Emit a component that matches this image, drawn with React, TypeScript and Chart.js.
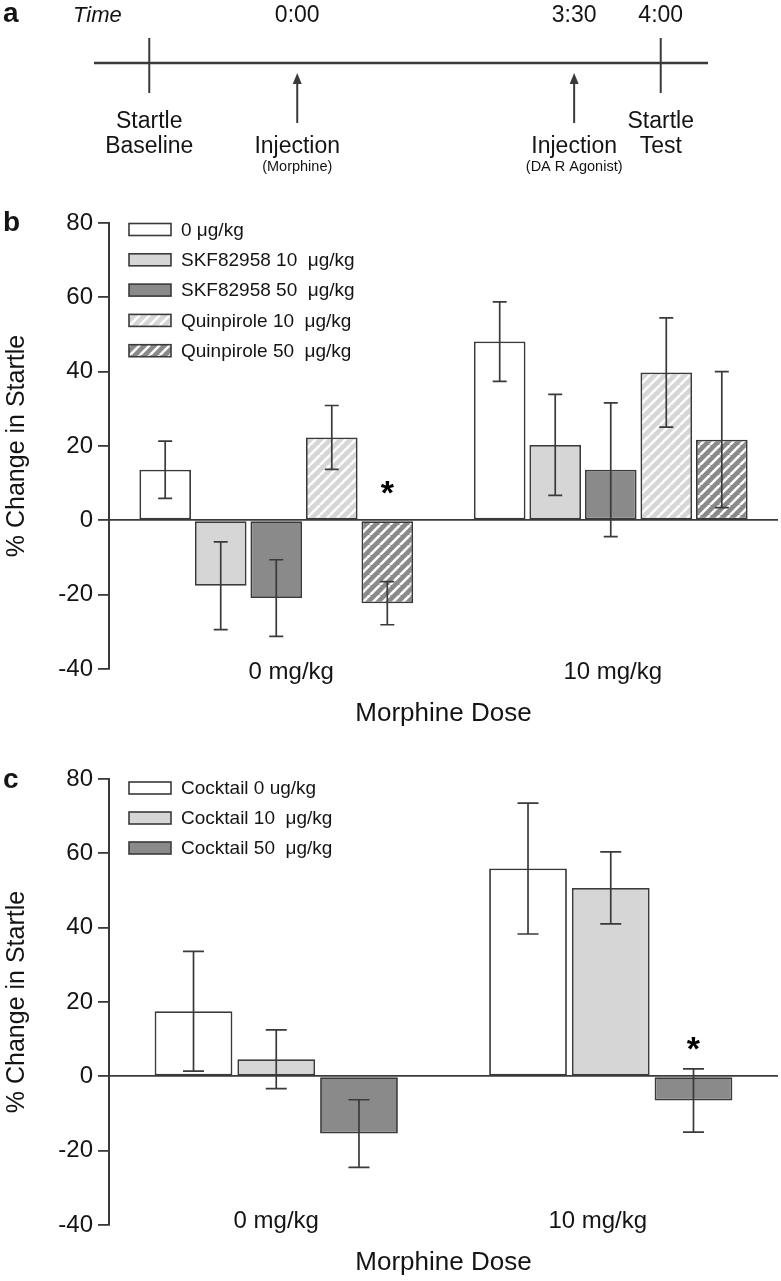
import React, { useEffect, useRef } from 'react';
import { Chart, registerables } from 'chart.js';

Chart.register(...registerables);

const FONT = '"Liberation Sans", Arial, Helvetica, sans-serif';
const TEXT = '#141414';
const EDGE = '#3a3a3a';
const WHITE_FILL = '#ffffff';
const LIGHT_FILL = '#d6d6d6';
const DARK_FILL = '#8a8a8a';

// ---------- panel a: protocol timeline ----------
const timelineRange = [0, 100];
const eventPositions = [9, 33.1, 78.2, 92.3];
const eventKinds = ['tick', 'arrow', 'arrow', 'tick'];
const eventClock = ['', '0:00', '3:30', '4:00'];
const eventLine1 = ['Startle', '', '', 'Startle'];
const eventLine2 = ['Baseline', 'Injection', 'Injection', 'Test'];
const eventNote = ['', '(Morphine)', '(DA R Agonist)', ''];

// ---------- shared axes ----------
const doseCategories = ['0 mg/kg', '10 mg/kg'];
const yMin = -40;
const yMax = 80;
const yStep = 20;

// ---------- panel b ----------
const bSeriesLabels = [
  '0 \u03bcg/kg',
  'SKF82958 10  \u03bcg/kg',
  'SKF82958 50  \u03bcg/kg',
  'Quinpirole 10  \u03bcg/kg',
  'Quinpirole 50  \u03bcg/kg',
];
const bVehicle = [13.6, 48.1];
const bVehicleSem = [7.7, 10.7];
const bSkf10 = [-17.6, 20.3];
const bSkf10Sem = [11.8, 13.6];
const bSkf50 = [-20.9, 13.6];
const bSkf50Sem = [10.3, 18.0];
const bQuin10 = [22.3, 39.8];
const bQuin10Sem = [8.6, 14.7];
const bQuin50 = [-22.3, 21.7];
const bQuin50Sem = [5.8, 18.3];
const bStars = [{ series: 4, index: 0, value: 8.7 }];

// ---------- panel c ----------
const cSeriesLabels = ['Cocktail 0 ug/kg', 'Cocktail 10  \u03bcg/kg', 'Cocktail 50  \u03bcg/kg'];
const cCocktail0 = [17.5, 55.9];
const cCocktail0Sem = [16.1, 17.6];
const cCocktail10 = [4.6, 50.7];
const cCocktail10Sem = [7.9, 9.7];
const cCocktail50 = [-15.4, -6.5];
const cCocktail50Sem = [9.1, 8.5];
const cStars = [{ series: 2, index: 1, value: 8.9 }];

function makeHatch(bg: string): any {
  const c = document.createElement('canvas');
  c.width = 10;
  c.height = 10;
  const g = c.getContext('2d')!;
  g.fillStyle = bg;
  g.fillRect(0, 0, 10, 10);
  g.strokeStyle = '#ffffff';
  g.lineWidth = 2.6;
  g.beginPath();
  for (const o of [-10, 0, 10]) {
    g.moveTo(o, 10);
    g.lineTo(o + 10, 0);
  }
  g.stroke();
  return g.createPattern(c, 'repeat');
}

function timelineConfig(): any {
  const timelinePlugin = {
    id: 'timeline',
    afterDraw(chart: any) {
      const ctx = chart.ctx;
      const xs = chart.scales.x;
      const x0 = xs.getPixelForValue(timelineRange[0]);
      const x1 = xs.getPixelForValue(timelineRange[1]);
      const lineY = 63;
      ctx.save();
      ctx.strokeStyle = EDGE;
      ctx.fillStyle = TEXT;
      ctx.lineWidth = 2.4;
      ctx.beginPath();
      ctx.moveTo(x0, lineY);
      ctx.lineTo(x1, lineY);
      ctx.stroke();

      ctx.textBaseline = 'alphabetic';
      ctx.textAlign = 'left';
      ctx.font = `bold 28px ${FONT}`;
      ctx.fillText('a', 3, 21.5);
      ctx.font = `italic 22px ${FONT}`;
      ctx.fillText('Time', 73, 21.5);

      ctx.textAlign = 'center';
      eventPositions.forEach((p, i) => {
        const x = xs.getPixelForValue(p);
        ctx.lineWidth = 2;
        ctx.beginPath();
        if (eventKinds[i] === 'tick') {
          ctx.moveTo(x, 38);
          ctx.lineTo(x, 93);
          ctx.stroke();
        } else {
          ctx.moveTo(x, 123);
          ctx.lineTo(x, 82);
          ctx.stroke();
          ctx.beginPath();
          ctx.moveTo(x, 73);
          ctx.lineTo(x - 4.5, 84);
          ctx.lineTo(x + 4.5, 84);
          ctx.closePath();
          ctx.fillStyle = EDGE;
          ctx.fill();
        }
        ctx.fillStyle = TEXT;
        ctx.font = `23px ${FONT}`;
        if (eventClock[i]) ctx.fillText(eventClock[i], x, 21.5);
        if (eventLine1[i]) ctx.fillText(eventLine1[i], x, 128);
        if (eventLine2[i]) ctx.fillText(eventLine2[i], x, 152.5);
        if (eventNote[i]) {
          ctx.font = `14.5px ${FONT}`;
          ctx.fillText(eventNote[i], x, 170.5);
        }
      });
      ctx.restore();
    },
  };
  return {
    type: 'scatter',
    data: { datasets: [] },
    options: {
      responsive: false,
      animation: false,
      layout: { padding: { left: 94, right: 73, top: 0, bottom: 0 } },
      plugins: { legend: { display: false }, tooltip: { enabled: false } },
      scales: {
        x: { type: 'linear', min: timelineRange[0], max: timelineRange[1], display: false },
        y: { type: 'linear', min: 0, max: 1, display: false },
      },
    },
    plugins: [timelinePlugin],
  };
}

type PanelSpec = {
  letter: string;
  letterBaseline: number;
  labels: string[];
  values: number[][];
  sems: number[][];
  fills: any[];
  stars: { series: number; index: number; value: number }[];
  categoryPercentage: number;
  barPercentage: number;
  capHalf: number;
  padTop: number;
  xAxisHeight: number;
  catBaseline: number;
  catShift: number[];
  titlePad: number;
  legendTop: number;
  legendStep: number;
};

function barConfig(s: PanelSpec): any {
  const datasets = s.values.map((vals, i) => ({
    label: s.labels[i],
    data: vals,
    sem: s.sems[i],
    backgroundColor: s.fills[i],
    borderColor: EDGE,
    borderWidth: 1.8,
    borderSkipped: false,
    categoryPercentage: s.categoryPercentage,
    barPercentage: s.barPercentage,
  }));

  const errorBars = {
    id: 'errorBars',
    afterDatasetsDraw(chart: any) {
      const ctx = chart.ctx;
      const ys = chart.scales.y;
      ctx.save();
      ctx.strokeStyle = EDGE;
      ctx.lineWidth = 1.7;
      chart.data.datasets.forEach((ds: any, i: number) => {
        const meta = chart.getDatasetMeta(i);
        meta.data.forEach((el: any, j: number) => {
          const v = ds.data[j];
          const e = ds.sem[j];
          const x = el.x;
          const y1 = ys.getPixelForValue(v + e);
          const y2 = ys.getPixelForValue(v - e);
          ctx.beginPath();
          ctx.moveTo(x, y1);
          ctx.lineTo(x, y2);
          ctx.moveTo(x - s.capHalf, y1);
          ctx.lineTo(x + s.capHalf, y1);
          ctx.moveTo(x - s.capHalf, y2);
          ctx.lineTo(x + s.capHalf, y2);
          ctx.stroke();
        });
      });
      ctx.restore();
    },
  };

  const legendBox = {
    id: 'legendBox',
    afterDraw(chart: any) {
      const ctx = chart.ctx;
      const { left, top } = chart.chartArea;
      ctx.save();
      chart.data.datasets.forEach((ds: any, i: number) => {
        const cy = top + s.legendTop + i * s.legendStep;
        ctx.fillStyle = ds.backgroundColor;
        ctx.fillRect(left + 20, cy - 6, 42, 12);
        ctx.strokeStyle = EDGE;
        ctx.lineWidth = 1.6;
        ctx.strokeRect(left + 20, cy - 6, 42, 12);
        ctx.fillStyle = TEXT;
        ctx.font = `19px ${FONT}`;
        ctx.textAlign = 'left';
        ctx.textBaseline = 'middle';
        ctx.fillText(ds.label, left + 72, cy + 1);
      });
      ctx.restore();
    },
  };

  const marks = {
    id: 'marks',
    afterDraw(chart: any) {
      const ctx = chart.ctx;
      const ys = chart.scales.y;
      const xs = chart.scales.x;
      ctx.save();
      // category labels (drawn at the bottom of the plot, level with the lowest y tick)
      ctx.fillStyle = TEXT;
      ctx.font = `24px ${FONT}`;
      ctx.textAlign = 'center';
      ctx.textBaseline = 'alphabetic';
      (chart.data.labels as string[]).forEach((lab, i) => {
        const x = xs.getPixelForValue(i) + (s.catShift[i] || 0);
        ctx.fillText(lab, x, chart.chartArea.bottom + s.catBaseline);
      });
      // significance stars
      ctx.fillStyle = '#000';
      ctx.font = `bold 34px ${FONT}`;
      s.stars.forEach((st) => {
        const el = chart.getDatasetMeta(st.series).data[st.index];
        const cy = ys.getPixelForValue(st.value);
        const m = ctx.measureText('*');
        const base = cy + (m.actualBoundingBoxAscent - m.actualBoundingBoxDescent) / 2;
        ctx.fillText('*', el.x, base);
      });
      // panel letter
      ctx.font = `bold 28px ${FONT}`;
      ctx.textAlign = 'left';
      ctx.fillStyle = TEXT;
      ctx.fillText(s.letter, 3, s.letterBaseline);
      ctx.restore();
    },
  };

  return {
    type: 'bar',
    data: { labels: doseCategories, datasets },
    options: {
      responsive: false,
      maintainAspectRatio: false,
      animation: false,
      layout: { padding: { left: 0, right: 3, top: s.padTop, bottom: 0 } },
      plugins: { legend: { display: false }, tooltip: { enabled: false } },
      scales: {
        x: {
          type: 'category',
          grid: { display: false },
          border: { display: false },
          ticks: { display: false },
          title: {
            display: true,
            text: 'Morphine Dose',
            color: TEXT,
            font: { family: FONT, size: 26 },
            padding: { top: 0, bottom: s.titlePad },
          },
          afterFit: (sc: any) => {
            sc.height = s.xAxisHeight;
          },
        },
        y: {
          min: yMin,
          max: yMax,
          ticks: { stepSize: yStep, color: TEXT, font: { family: FONT, size: 24 }, padding: 5 },
          grid: {
            drawOnChartArea: true,
            drawTicks: true,
            tickLength: 11,
            lineWidth: 1.8,
            tickColor: EDGE,
            color: (c: any) => (c.tick && c.tick.value === 0 ? EDGE : 'rgba(0,0,0,0)'),
          },
          border: { display: true, color: EDGE, width: 2 },
          title: {
            display: true,
            text: '% Change in Startle',
            color: TEXT,
            font: { family: FONT, size: 25 },
            padding: { top: 2, bottom: 0 },
          },
          afterFit: (sc: any) => {
            sc.width = 109;
          },
        },
      },
    },
    plugins: [errorBars, legendBox, marks],
  };
}

function ChartCanvas(props: { make: () => any; width: number; height: number; top: number }) {
  const ref = useRef<HTMLCanvasElement | null>(null);
  useEffect(() => {
    const chart = new Chart(ref.current as HTMLCanvasElement, props.make());
    return () => chart.destroy();
  }, []);
  return (
    <canvas
      ref={ref}
      width={props.width}
      height={props.height}
      style={{ position: 'absolute', left: 0, top: props.top, width: props.width, height: props.height }}
    />
  );
}

export default function App() {
  const makeB = () =>
    barConfig({
      letter: 'b',
      letterBaseline: 46,
      labels: bSeriesLabels,
      values: [bVehicle, bSkf10, bSkf50, bQuin10, bQuin50],
      sems: [bVehicleSem, bSkf10Sem, bSkf50Sem, bQuin10Sem, bQuin50Sem],
      fills: [WHITE_FILL, LIGHT_FILL, DARK_FILL, makeHatch(LIGHT_FILL), makeHatch(DARK_FILL)],
      stars: bStars,
      categoryPercentage: 0.83,
      barPercentage: 0.93,
      capHalf: 7,
      padTop: 38,
      xAxisHeight: 66,
      catBaseline: 10,
      catShift: [15, 2],
      titlePad: 5.4,
      legendTop: 6.5,
      legendStep: 30.3,
    });
  const makeC = () =>
    barConfig({
      letter: 'c',
      letterBaseline: 47.5,
      labels: cSeriesLabels,
      values: [cCocktail0, cCocktail10, cCocktail50],
      sems: [cCocktail0Sem, cCocktail10Sem, cCocktail50Sem],
      fills: [WHITE_FILL, LIGHT_FILL, DARK_FILL],
      stars: cStars,
      categoryPercentage: 0.742,
      barPercentage: 0.94,
      capHalf: 10.5,
      padTop: 39,
      xAxisHeight: 56,
      catBaseline: 3,
      catShift: [0, -13],
      titlePad: 2.4,
      legendTop: 9,
      legendStep: 30,
    });
  return (
    <div style={{ position: 'absolute', left: 0, top: 0, width: 781, height: 1281, background: '#fff' }}>
      <ChartCanvas make={timelineConfig} width={781} height={185} top={0} />
      <ChartCanvas make={makeB} width={781} height={550} top={185} />
      <ChartCanvas make={makeC} width={781} height={541} top={740} />
    </div>
  );
}
